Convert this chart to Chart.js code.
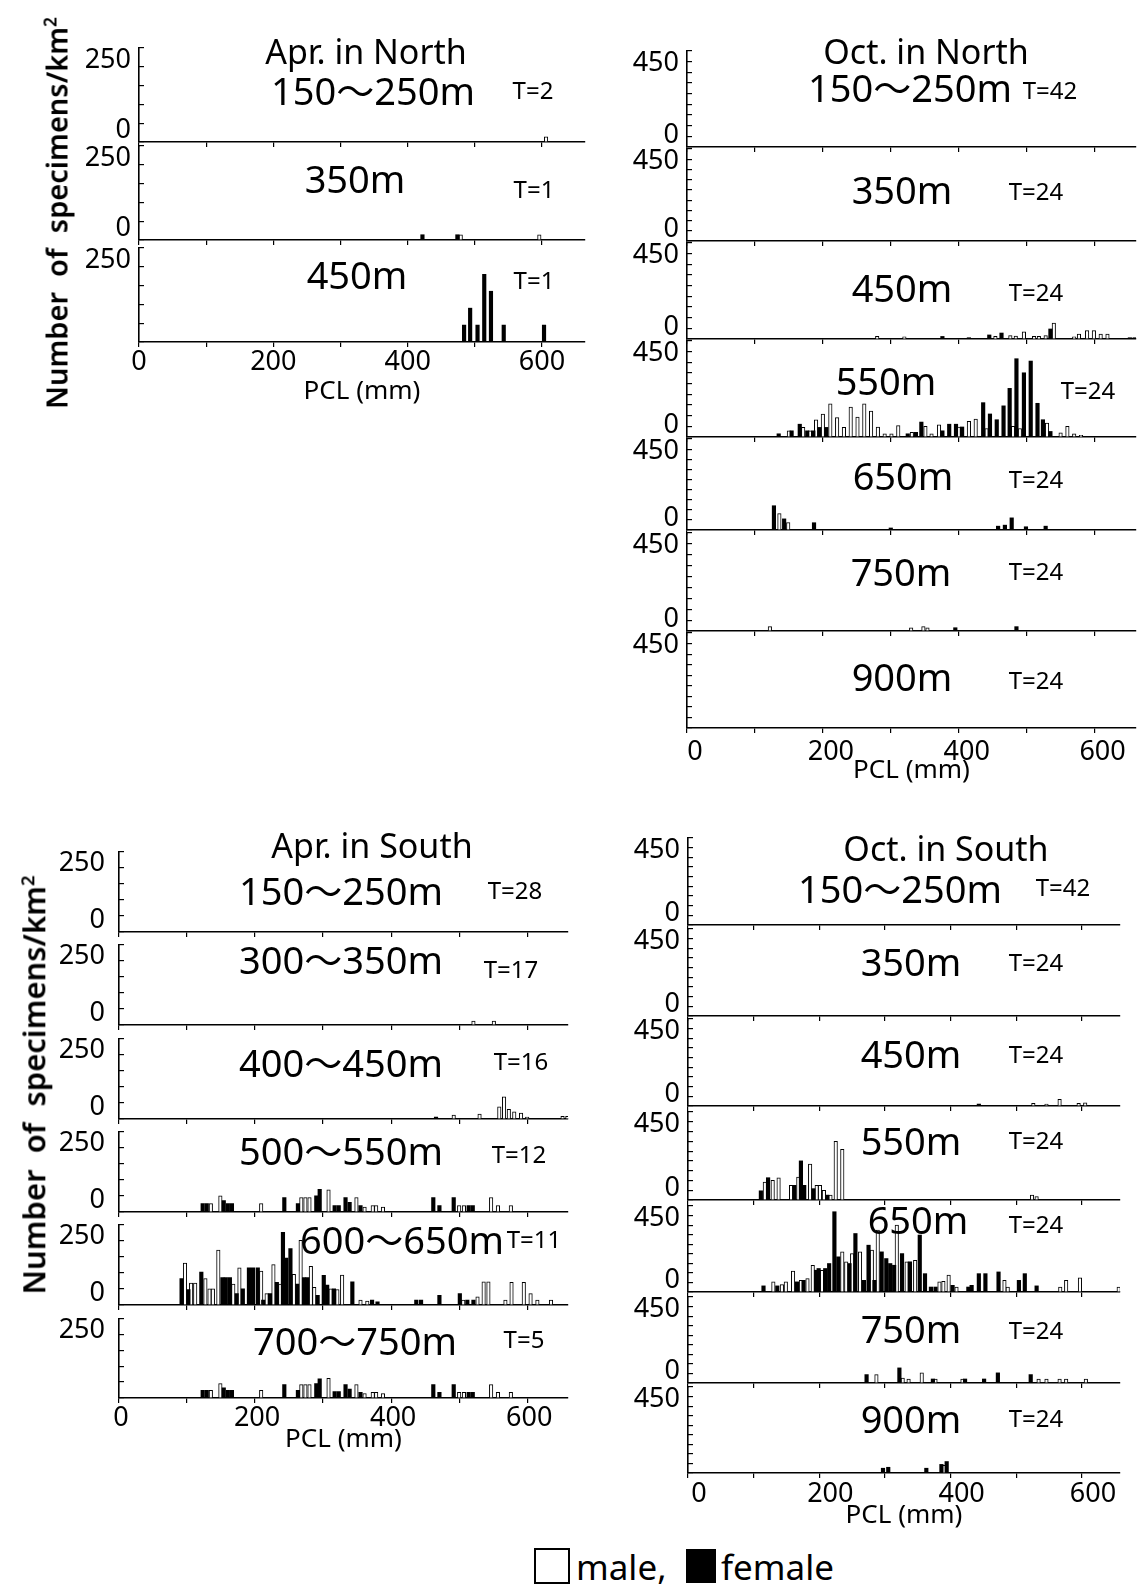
<!DOCTYPE html>
<html>
<head>
<meta charset="utf-8">
<script src="https://cdn.jsdelivr.net/npm/chart.js@4.4.1/dist/chart.umd.min.js"></script>
<style>
body { margin: 0; background: #fff; }
#page { position: relative; width: 1140px; height: 1590px; overflow: hidden; background: #fff;
        font-family: "Noto Sans", "Noto Sans CJK JP", sans-serif; color: #000; }
#page canvas { position: absolute; }
.txt { position: absolute; transform: translate(-50%, -50%); white-space: nowrap; line-height: 1; }
.ltxt { position: absolute; transform: translate(0, -50%); white-space: nowrap; line-height: 1; }
.ytitle { position: absolute; transform: translate(-50%, -50%) rotate(-90deg); white-space: nowrap; line-height: 1; font-weight: 600; }
.box { position: absolute; box-sizing: border-box; border: 2px solid #000; }
</style>
</head>
<body>
<div id="page"></div>
<script>
// Bars: [PCL (mm), number of specimens/km2]
// female = black bars, male = white bars

// x axis tick marks (PCL, mm)
var pclTicks = [0, 100, 200, 300, 400, 500, 600];

// Apr. in North
var aprN150_f = [];
var aprN150_m = [[606, 14]];
var aprN350_f = [[422, 14], [474, 14]];
var aprN350_m = [[479, 14], [596, 14]];
var aprN450_f = [[484, 45], [493, 90], [504, 45], [514, 180], [524, 135], [543, 45], [603, 45]];
var aprN450_m = [];

// Oct. in North
var octN150_f = [];
var octN150_m = [];
var octN350_f = [];
var octN350_m = [];
var octN450_f = [[376, 12], [415, 6], [445, 19], [463, 28], [535, 47], [652, 6], [659, 6]];
var octN450_m = [[280, 12], [320, 10], [454, 12], [476, 16], [484, 14], [496, 34], [511, 12], [518, 12],
                 [528, 16], [540, 75], [570, 10], [577, 23], [589, 39], [599, 39], [609, 23], [619, 23]];
var octN550_f = [[135, 15], [154, 29], [166, 60], [177, 29], [186, 29], [195, 45], [205, 45], [325, 15],
                 [337, 22], [345, 70], [376, 29], [386, 60], [396, 60], [405, 47], [436, 161], [446, 108],
                 [456, 81], [466, 146], [475, 228], [485, 367], [496, 301], [506, 356], [516, 158], [524, 81], [535, 26]];
var octN550_m = [[150, 29], [171, 45], [181, 29], [190, 81], [200, 108], [211, 155], [221, 91], [231, 45],
                 [241, 140], [251, 93], [261, 155], [271, 122], [281, 47], [291, 15], [301, 15], [311, 53],
                 [331, 22], [351, 50], [360, 15], [371, 57], [400, 47], [415, 73], [425, 84], [441, 40],
                 [480, 50], [490, 40], [530, 65], [550, 19], [560, 50], [570, 15], [580, 8]];
var octN650_f = [[128, 120], [143, 55], [187, 36], [300, 10], [458, 19], [468, 24], [478, 60], [499, 16], [528, 19]];
var octN650_m = [[136, 81], [149, 37]];
var octN750_f = [[395, 15], [485, 20]];
var octN750_m = [[122, 20], [330, 15], [348, 20], [354, 15]];
var octN900_f = [];
var octN900_m = [];

// Apr. in South
var aprS150_f = [];
var aprS150_m = [];
var aprS300_f = [];
var aprS300_m = [[521, 12], [551, 12]];
var aprS400_f = [[466, 6]];
var aprS400_m = [[492, 12], [530, 15], [559, 38], [566, 69], [573, 30], [581, 22], [591, 18], [600, 6], [652, 8], [659, 8]];
var aprS500_f = [[123, 26], [129, 26], [154, 35], [160, 26], [166, 26], [243, 45], [263, 26], [290, 50],
                 [295, 70], [317, 20], [323, 20], [333, 45], [339, 30], [355, 20], [462, 45], [471, 20],
                 [492, 45], [514, 20], [520, 20]];
var aprS500_m = [[135, 26], [149, 50], [209, 26], [268, 45], [274, 45], [280, 45], [308, 69], [349, 45],
                 [361, 15], [373, 20], [378, 20], [388, 15], [500, 20], [507, 20], [547, 45], [557, 20], [576, 20]];
var aprS600_f = [[92, 82], [102, 48], [121, 102], [152, 85], [157, 85], [163, 85], [173, 35], [182, 50],
                 [191, 115], [197, 115], [204, 115], [212, 15], [222, 35], [232, 70], [241, 225], [246, 145],
                 [252, 175], [262, 65], [272, 85], [277, 85], [292, 30], [301, 92], [306, 62], [316, 50],
                 [343, 72], [372, 15], [380, 10], [437, 15], [444, 15], [471, 30], [501, 35], [512, 15], [521, 15]];
var aprS600_m = [[97, 130], [106, 68], [112, 68], [127, 82], [133, 50], [138, 50], [146, 170], [168, 65],
                 [177, 115], [209, 105], [217, 35], [227, 125], [237, 65], [257, 95], [267, 200], [282, 120],
                 [287, 55], [311, 50], [321, 48], [328, 93], [355, 15], [365, 12], [506, 15], [527, 25],
                 [536, 72], [543, 72], [568, 15], [577, 70], [595, 70], [605, 35], [615, 15], [635, 15]];
var aprS700_f = [[123, 24], [129, 24], [154, 32], [160, 24], [166, 24], [243, 42], [263, 24], [290, 45],
                 [295, 60], [317, 20], [323, 20], [333, 42], [339, 28], [355, 18], [462, 42], [471, 18],
                 [492, 42], [514, 18], [520, 18]];
var aprS700_m = [[135, 24], [149, 45], [209, 24], [268, 42], [274, 42], [280, 42], [308, 62], [349, 42],
                 [361, 14], [373, 18], [378, 18], [388, 14], [500, 18], [507, 18], [547, 42], [557, 18], [576, 18]];

// Oct. in South
var octS150_f = [];
var octS150_m = [];
var octS350_f = [];
var octS350_m = [];
var octS450_f = [[443, 10]];
var octS450_m = [[526, 14], [546, 10], [566, 34], [595, 14], [605, 17]];
var octS550_f = [[111, 47], [122, 114], [162, 75], [172, 200], [177, 75], [191, 58], [212, 25]];
var octS550_m = [[117, 92], [129, 100], [138, 114], [157, 75], [168, 117], [186, 184], [196, 75], [201, 75],
                 [207, 50], [217, 25], [225, 300], [235, 259], [524, 25], [531, 17]];
var octS650_f = [[115, 32], [136, 32], [166, 53], [176, 61], [195, 114], [199, 123], [209, 123], [215, 149],
                 [223, 420], [229, 184], [246, 149], [255, 306], [268, 61], [275, 245], [284, 61], [295, 210],
                 [302, 175], [308, 149], [314, 140], [326, 201], [338, 158], [353, 298], [361, 96], [370, 26],
                 [377, 26], [403, 35], [427, 26], [432, 35], [443, 96], [453, 96], [473, 105], [504, 61],
                 [513, 96], [531, 32]];
var octS650_m = [[130, 53], [143, 39], [149, 53], [160, 109], [172, 61], [182, 70], [190, 140], [204, 114],
                 [235, 210], [241, 158], [250, 201], [262, 210], [280, 219], [289, 324], [318, 350], [333, 158],
                 [346, 166], [383, 53], [389, 56], [397, 88], [409, 26], [482, 61], [487, 26], [567, 26],
                 [576, 61], [597, 74], [656, 26]];
var octS750_f = [[272, 44], [322, 79], [373, 21], [422, 21], [451, 21], [472, 53], [522, 44]];
var octS750_m = [[287, 44], [327, 26], [336, 21], [356, 53], [377, 21], [418, 21], [534, 21], [546, 21],
                 [566, 21], [576, 21], [606, 21]];
var octS900_f = [[297, 25], [305, 30], [363, 25], [386, 45], [394, 60]];
var octS900_m = [[390, 40]];

var FONT = '"Noto Sans", "Noto Sans CJK JP", sans-serif';
var page = document.getElementById('page');

// Layout of the four blocks (pixel positions only)
var groups = [
    {title: 'Apr. in North', tx: 366, ty: 51, axisX: 139, right: 585, xMax: 664, yMax: 250, yPad: 13, xPad: 1.5, xShift: 0, xTitle: 63,
     panels: [
        {top: 48, base: 142, f: aprN150_f, m: aprN150_m, depth: '150〜250m', dx: 373, dy: 90, T: 'T=2', Tx: 533, Ty: 90},
        {top: 146, base: 240, f: aprN350_f, m: aprN350_m, depth: '350m', dx: 355, dy: 178, T: 'T=1', Tx: 534, Ty: 189},
        {top: 248, base: 342, f: aprN450_f, m: aprN450_m, depth: '450m', dx: 357, dy: 274, T: 'T=1', Tx: 534, Ty: 280}
     ]},
    {title: 'Oct. in North', tx: 926, ty: 51, axisX: 687, right: 1136, xMax: 661, yMax: 450, yPad: 13, xPad: 5.5, xShift: 8, xTitle: 56,
     panels: [
        {top: 51, base: 147, f: octN150_f, m: octN150_m, depth: '150〜250m', dx: 910, dy: 87, T: 'T=42', Tx: 1050, Ty: 90},
        {top: 149, base: 241, f: octN350_f, m: octN350_m, depth: '350m', dx: 902, dy: 189, T: 'T=24', Tx: 1036, Ty: 191},
        {top: 243, base: 339, f: octN450_f, m: octN450_m, depth: '450m', dx: 902, dy: 287, T: 'T=24', Tx: 1036, Ty: 292},
        {top: 341, base: 437, f: octN550_f, m: octN550_m, depth: '550m', dx: 886, dy: 380, T: 'T=24', Tx: 1088, Ty: 390},
        {top: 439, base: 530, f: octN650_f, m: octN650_m, depth: '650m', dx: 903, dy: 475, T: 'T=24', Tx: 1036, Ty: 479},
        {top: 533, base: 631, f: octN750_f, m: octN750_m, depth: '750m', dx: 901, dy: 571, T: 'T=24', Tx: 1036, Ty: 571},
        {top: 633, base: 728, f: octN900_f, m: octN900_m, depth: '900m', dx: 902, dy: 676, T: 'T=24', Tx: 1036, Ty: 680}
     ]},
    {title: 'Apr. in South', tx: 372, ty: 845, axisX: 119, right: 568, xMax: 660, yMax: 250, yPad: 19, xPad: 1.5, xShift: 2, xTitle: 55,
     panels: [
        {top: 848, base: 932, f: aprS150_f, m: aprS150_m, depth: '150〜250m', dx: 341, dy: 890, T: 'T=28', Tx: 515, Ty: 890},
        {top: 941, base: 1025, f: aprS300_f, m: aprS300_m, depth: '300〜350m', dx: 341, dy: 959, T: 'T=17', Tx: 511, Ty: 969},
        {top: 1035, base: 1119, f: aprS400_f, m: aprS400_m, depth: '400〜450m', dx: 341, dy: 1062, T: 'T=16', Tx: 521, Ty: 1061},
        {top: 1128, base: 1212, f: aprS500_f, m: aprS500_m, depth: '500〜550m', dx: 341, dy: 1150, T: 'T=12', Tx: 519, Ty: 1154},
        {top: 1221, base: 1305, f: aprS600_f, m: aprS600_m, depth: '600〜650m', dx: 402, dy: 1239, T: 'T=11', Tx: 534, Ty: 1239},
        {top: 1315, base: 1398, f: aprS700_f, m: aprS700_m, depth: '700〜750m', dx: 355, dy: 1340, T: 'T=5', Tx: 524, Ty: 1339}
     ]},
    {title: 'Oct. in South', tx: 946, ty: 848, axisX: 688, right: 1120, xMax: 658, yMax: 450, yPad: 13, xPad: 2.5, xShift: 11, xTitle: 56,
     panels: [
        {top: 838, base: 925, f: octS150_f, m: octS150_m, depth: '150〜250m', dx: 900, dy: 888, T: 'T=42', Tx: 1063, Ty: 887},
        {top: 929, base: 1016, f: octS350_f, m: octS350_m, depth: '350m', dx: 911, dy: 961, T: 'T=24', Tx: 1036, Ty: 962},
        {top: 1019, base: 1106, f: octS450_f, m: octS450_m, depth: '450m', dx: 911, dy: 1053, T: 'T=24', Tx: 1036, Ty: 1054},
        {top: 1112, base: 1200, f: octS550_f, m: octS550_m, depth: '550m', dx: 911, dy: 1140, T: 'T=24', Tx: 1036, Ty: 1140},
        {top: 1206, base: 1292, f: octS650_f, m: octS650_m, depth: '650m', dx: 918, dy: 1219, T: 'T=24', Tx: 1036, Ty: 1224},
        {top: 1297, base: 1383, f: octS750_f, m: octS750_m, depth: '750m', dx: 911, dy: 1328, T: 'T=24', Tx: 1036, Ty: 1330},
        {top: 1387, base: 1473, f: octS900_f, m: octS900_m, depth: '900m', dx: 911, dy: 1418, T: 'T=24', Tx: 1036, Ty: 1418}
     ]}
];

function to_xy(pairs){
    return pairs.map(function(p){ return {x: p[0], y: p[1]}; });
}

function add_text(text, x, y, size, cls){
    var d = document.createElement('div');
    d.className = cls || 'txt';
    d.style.left = x + 'px';
    d.style.top = y + 'px';
    d.style.fontSize = size + 'px';
    d.innerHTML = text;
    page.appendChild(d);
    return d;
}

function make_panel(g, p, last){
    var PT = 40, PR = 20, PB = last ? 0 : 40;
    var xh = last ? g.xTitle : 8;
    var yw = 90;
    var canvas = document.createElement('canvas');
    canvas.width = yw + (g.right - g.axisX) + PR;
    canvas.height = PT + (p.base - p.top) + xh + PB;
    canvas.style.left = (g.axisX - yw) + 'px';
    canvas.style.top = (p.top - PT) + 'px';
    page.appendChild(canvas);

    var yMax = g.yMax;

    new Chart(canvas, {
        type: 'bar',
        data: {
            datasets: [
                {label: 'female', data: to_xy(p.f), backgroundColor: '#000', borderColor: '#000',
                 borderWidth: 0, barThickness: 3.5, grouped: false},
                {label: 'male', data: to_xy(p.m), backgroundColor: '#fff', borderColor: '#000',
                 borderWidth: 1, barThickness: 3.5, grouped: false}
            ]
        },
        options: {
            responsive: false,
            animation: false,
            devicePixelRatio: 1,
            layout: {padding: {top: PT, right: PR, bottom: PB, left: 0}},
            plugins: {legend: {display: false}, tooltip: {enabled: false}},
            scales: {
                x: {
                    type: 'linear', min: 0, max: g.xMax, offset: false,
                    // keep the tick marks at every 100 mm only
                    afterBuildTicks: function(s){
                        s.ticks = pclTicks.map(function(v){ return {value: v}; });
                    },
                    afterFit: function(s){ s.height = xh; },
                    ticks: {
                        display: last, padding: g.xPad, labelOffset: g.xShift, autoSkip: false, maxRotation: 0,
                        color: '#000', font: {family: FONT, size: 27, lineHeight: 1},
                        callback: function(v){ return v % 200 === 0 ? String(v) : ''; }
                    },
                    grid: {offset: false, drawOnChartArea: false, drawTicks: true, tickLength: 5, color: '#000', lineWidth: 1.2},
                    border: {display: true, color: '#000', width: 1.6},
                    title: {display: last, text: 'PCL (mm)', color: '#000',
                            font: {family: FONT, size: 26, lineHeight: 1}, padding: 0}
                },
                y: {
                    min: 0, max: yMax,
                    afterFit: function(s){ s.width = yw; },
                    ticks: {
                        stepSize: 50, padding: g.yPad, autoSkip: false, color: '#000',
                        font: {family: FONT, size: 27, lineHeight: 0.9},
                        // top label hangs below the tick, bottom label sits above it
                        callback: function(v){
                            if (v === yMax) return ['', String(yMax)];
                            if (v === 0 && !last) return ['0', ''];
                            return '';
                        }
                    },
                    grid: {drawOnChartArea: false, drawTicks: true, tickLength: -5, color: '#000', lineWidth: 1.2},
                    border: {display: true, color: '#000', width: 1.6}
                }
            }
        }
    });

    add_text(p.depth, p.dx, p.dy, 38);
    add_text(p.T, p.Tx, p.Ty, 24);
}

for (let i = 0; i < groups.length; i++){
    var g = groups[i];
    for (let j = 0; j < g.panels.length; j++){
        make_panel(g, g.panels[j], j === g.panels.length - 1);
    }
    add_text(g.title, g.tx, g.ty, 34);
}

// Axis titles
add_text('Number&nbsp; of&nbsp; specimens/km<sup style="font-size:60%">2</sup>', 56, 213, 29, 'ytitle');
add_text('Number&nbsp; of&nbsp; specimens/km<sup style="font-size:60%">2</sup>', 34, 1085, 31, 'ytitle');

// Legend
var b1 = document.createElement('div');
b1.className = 'box';
b1.style.cssText = 'left:534px; top:1548px; width:36px; height:36px; background:#fff;';
page.appendChild(b1);
add_text('male,', 576, 1566, 35, 'ltxt');
var b2 = document.createElement('div');
b2.className = 'box';
b2.style.cssText = 'left:686px; top:1549px; width:30px; height:34px; background:#000;';
page.appendChild(b2);
add_text('female', 721, 1566, 35, 'ltxt');
</script>
</body>
</html>
